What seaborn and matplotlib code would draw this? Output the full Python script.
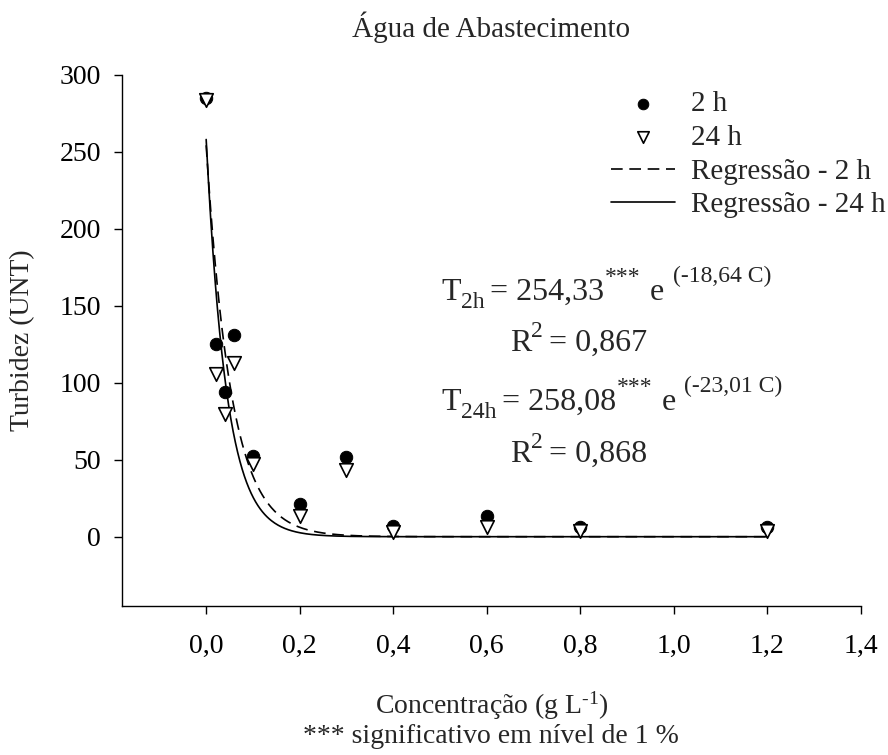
import numpy as np
import pandas as pd
import matplotlib
matplotlib.use("Agg")
import matplotlib.pyplot as plt
import matplotlib.transforms as mtrans
import seaborn as sns

# ---- data ----
conc = [0.0, 0.02, 0.04, 0.06, 0.1, 0.2, 0.3, 0.4, 0.6, 0.8, 1.2]
turb_2h = [285, 125, 94, 131, 52.5, 21, 52, 7, 13.5, 6.5, 6.5]
turb_24h = [284, 106, 80, 113, 47, 13.5, 43.5, 3, 6.5, 3.5, 3.5]

# regression parameters printed on the chart: T = a * exp(b * C)
a_2h, b_2h = 254.33, -18.64
a_24h, b_24h = 258.08, -23.01
fit_range = (0.0, 1.2)

xticks = [0.0, 0.2, 0.4, 0.6, 0.8, 1.0, 1.2, 1.4]
xticklabels = ["0,0", "0,2", "0,4", "0,6", "0,8", "1,0", "1,2", "1,4"]
yticks = [0, 50, 100, 150, 200, 250, 300]
yticklabels = ["0", "50", "100", "150", "200", "250", "300"]

labels = ["2 h", "24 h", "Regressão - 2 h", "Regressão - 24 h"]

# ---- style ----
sns.set_style("ticks")
plt.rcParams["font.family"] = ["Liberation Serif", "DejaVu Serif"]
plt.rcParams["mathtext.fontset"] = "custom"
plt.rcParams["mathtext.rm"] = "Liberation Serif"
plt.rcParams["mathtext.it"] = "Liberation Serif:italic"
plt.rcParams["mathtext.bf"] = "Liberation Serif:bold"
plt.rcParams["axes.linewidth"] = 1.0

FS = 20
EQ_FS = 23
SUB_FS = 17

fig = plt.figure(figsize=(8.88, 7.55), dpi=100)
ax = fig.add_axes([0.1374, 0.1974, 0.8319, 0.7033])

# regression curves
xs = np.linspace(fit_range[0], fit_range[1], 500)
fit = pd.DataFrame({"C": xs,
                    "y2": a_2h * np.exp(b_2h * xs),
                    "y24": a_24h * np.exp(b_24h * xs)})
sns.lineplot(data=fit, x="C", y="y2", ax=ax, color="black", lw=1.2,
             linestyle=(0, (7, 4)), label=labels[2], zorder=2)
sns.lineplot(data=fit, x="C", y="y24", ax=ax, color="black", lw=1.2,
             label=labels[3], zorder=2)

# points
pts = pd.DataFrame({"C": conc, "t2": turb_2h, "t24": turb_24h})
sns.scatterplot(data=pts, x="C", y="t2", ax=ax, marker="o", color="black",
                edgecolor="black", s=80, label=labels[0], zorder=3)
sns.scatterplot(data=pts, x="C", y="t24", ax=ax, marker="v", color="white",
                edgecolor="black", linewidth=1.2, s=95, label=labels[1], zorder=4)

ax.set_xlim(-0.18, 1.4)
ax.set_ylim(-45, 300)
ax.set_xticks(xticks)
ax.set_xticklabels(xticklabels)
ax.set_yticks(yticks)
ax.set_yticklabels(yticklabels)
ax.tick_params(axis="both", direction="out", length=6, width=1.0,
               labelsize=FS, colors="black")
ax.tick_params(axis="x", pad=14)
ax.tick_params(axis="y", pad=9)
for s in ["top", "right"]:
    ax.spines[s].set_visible(False)
for s in ["left", "bottom"]:
    ax.spines[s].set_color("black")

ax.set_xlabel("Concentração (g L$^{\\text{-1}}$)", fontsize=FS)
ax.xaxis.set_label_coords(0.5, -0.158)
ax.set_ylabel("Turbidez (UNT)", fontsize=FS)
ax.yaxis.set_label_coords(-0.117, 0.5)
ax.set_title("Água de Abastecimento", fontsize=21, pad=27)

# legend
h, l = ax.get_legend_handles_labels()
order = [l.index(x) for x in labels]
leg = ax.legend([h[i] for i in order], [l[i] for i in order],
                loc="upper left", bbox_to_anchor=(0.662, 0.970),
                frameon=False, fontsize=21, handlelength=2.2,
                handletextpad=0.55, labelspacing=0.25, borderpad=0,
                borderaxespad=0, markerscale=0.85)

# equations: pieces of (text, fontsize, vertical shift in pt, gap before in pt)
renderer = fig.canvas.get_renderer()


def rich_text(x, y, pieces):
    dx_px = 0.0
    for txt, fs, dy, gap in pieces:
        dx_px += gap * fig.dpi / 72.0
        tr = ax.transData + mtrans.ScaledTranslation(
            dx_px / fig.dpi, dy / 72.0, fig.dpi_scale_trans)
        t = ax.text(x, y, txt, fontsize=fs, ha="left", va="baseline",
                    transform=tr)
        dx_px += t.get_window_extent(renderer).width


rich_text(0.504, 153.9, [("T", EQ_FS, 0, 0), ("2h", SUB_FS, -6, 0),
                         ("= 254,33", EQ_FS, 0, 4), ("***", SUB_FS, 12, 0),
                         ("e", EQ_FS, 0, 7), ("(-18,64 C)", SUB_FS, 13, 6)])
rich_text(0.65, 120.5, [("R", EQ_FS, 0, 0), ("2", SUB_FS, 10, 0),
                        ("= 0,867", EQ_FS, 0, 4)])
rich_text(0.504, 82.4, [("T", EQ_FS, 0, 0), ("24h", SUB_FS, -6, 0),
                        ("= 258,08", EQ_FS, 0, 4), ("***", SUB_FS, 12, 0),
                        ("e", EQ_FS, 0, 7), ("(-23,01 C)", SUB_FS, 13, 6)])
rich_text(0.65, 48.8, [("R", EQ_FS, 0, 0), ("2", SUB_FS, 10, 0),
                       ("= 0,868", EQ_FS, 0, 4)])

fig.text(0.553, 0.0165, "*** significativo em nível de 1 %", fontsize=20,
         ha="center", va="baseline")

fig.savefig("out.png", dpi=100)
